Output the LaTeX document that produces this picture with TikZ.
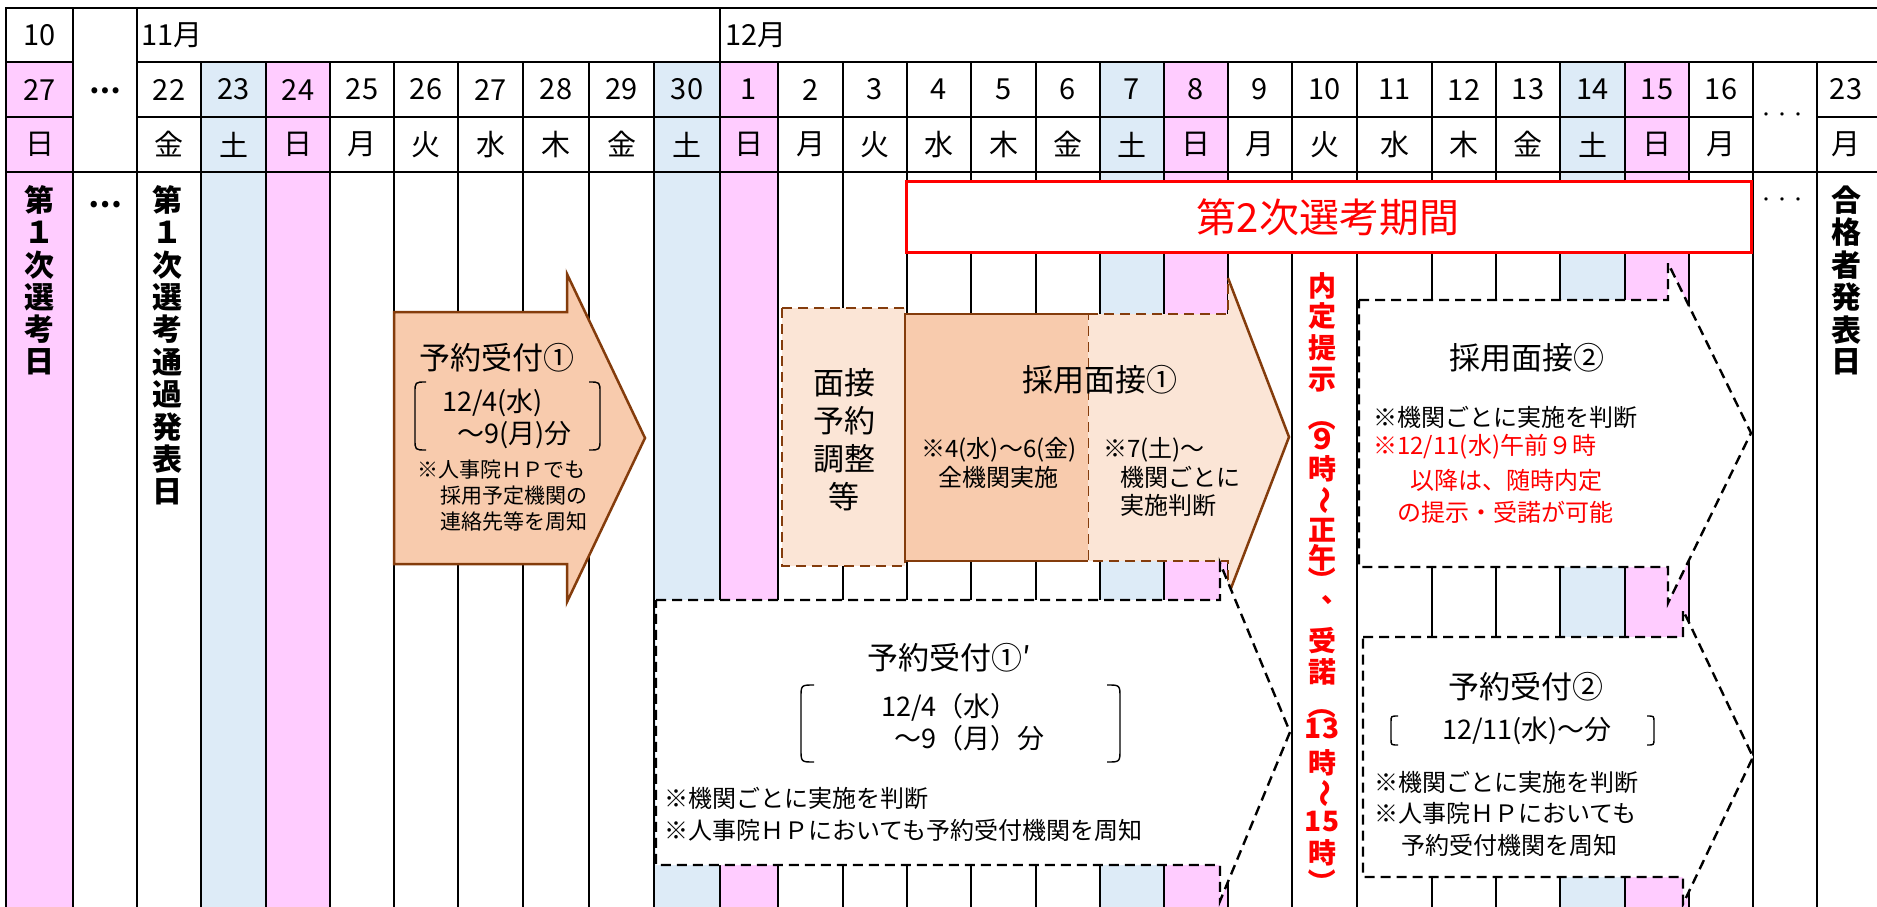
\documentclass[tikz,border=0pt]{standalone}
\usepackage{fontspec}
\setmainfont{Noto Sans CJK JP}
\definecolor{satblue}{HTML}{DDEBF7}
\definecolor{sunpink}{HTML}{FFCCFF}
\definecolor{peachdark}{HTML}{F8CBAD}
\definecolor{peachlight}{HTML}{FBE5D6}
\definecolor{brownline}{HTML}{843C0C}
\tikzset{
  gridline/.style={line width=2.6pt, line cap=rect},
  hdr/.style={inner sep=0pt, font=\fontsize{29}{29}\selectfont},
  vchar/.style={inner sep=0pt, font=\bfseries\fontsize{30}{30}\selectfont},
  redchar/.style={inner sep=0pt, text=red, font=\bfseries\fontsize{28}{28}\selectfont},
  ttl/.style={inner sep=0pt, font=\fontsize{31}{31}\selectfont},
  midtxt/.style={inner sep=0pt, font=\fontsize{27}{27}\selectfont},
  smalltxt/.style={inner sep=0pt, anchor=west, font=\fontsize{24}{24}\selectfont},
  dasharrow/.style={fill=white, draw=black, line width=2.4pt, dash pattern=on 10pt off 6pt},
  dashbox/.style={fill=peachlight, draw=brownline, line width=2.4pt, dash pattern=on 10pt off 6pt},
  brk/.style={line width=1.4pt},
}

\begin{document}
\begin{tikzpicture}[x=1pt,y=-1pt]
  \useasboundingbox (0,0) rectangle (1877,907);
  \clip (0,0) rectangle (1877,907);
  \fill[white] (0,0) rectangle (1877,907);

  % day columns
  \foreach \xa/\xb/\dd/\ww/\cc [count=\i] in {
      6/73/27/日/sunpink, 137/201/22/金/white, 201/266/23/土/satblue, 266/330/24/日/sunpink,
      330/394/25/月/white, 394/458/26/火/white, 458/523/27/水/white, 523/589/28/木/white,
      589/654/29/金/white, 654/720/30/土/satblue, 720/778/1/日/sunpink, 778/843/2/月/white,
      843/907/3/火/white, 907/971/4/水/white, 971/1036/5/木/white, 1036/1100/6/金/white,
      1100/1164/7/土/satblue, 1164/1228/8/日/sunpink, 1228/1292/9/月/white, 1292/1357/10/火/white,
      1357/1432/11/水/white, 1432/1496/12/木/white, 1496/1560/13/金/white, 1560/1625/14/土/satblue,
      1625/1689/15/日/sunpink, 1689/1753/16/月/white, 1817/1875/23/月/white}
  {
    \fill[\cc] (\xa,62) rectangle (\xb,907);
    \node[hdr] (d\i) at ({(\xa+\xb)/2},89.5) {\dd};
    \node[hdr] (w\i) at ({(\xa+\xb)/2},144.5) {\ww};
  }

  % grid
  \foreach \x in {201,266,330,394,458,523,589,654,778,843,907,971,1036,1100,1164,1228,
                  1292,1357,1432,1496,1560,1625,1689,1753,1817}
    \draw[gridline] (\x,62) -- (\x,910);
  \foreach \x in {6,73,137,720}
    \draw[gridline] (\x,8) -- (\x,910);
  \draw[gridline] (6,8) -- (1880,8);
  \draw[gridline] (6,62) -- (73,62) (137,62) -- (1880,62);
  \draw[gridline] (6,117) -- (73,117) (137,117) -- (1753,117) (1817,117) -- (1880,117);
  \draw[gridline] (6,172) -- (1880,172);

  % months
  \node[hdr] (m10) at (39.5,35) {10};
  \node[hdr,anchor=west] (m11) at (141,35) {11月};
  \node[hdr,anchor=west] (m12) at (725,35) {12月};
  \node[hdr,font=\bfseries\fontsize{28}{28}\selectfont] (gapa) at (105,91) {…};
  \node[hdr,font=\fontsize{16}{16}\selectfont] (gapb) at (1782,117) {・・・};

  % fixed dates
  \foreach \ch [count=\i] in {第,１,次,選,考,日}
    \node[vchar] (da\i) at (39.5,{200+(\i-1)*32.4}) {\ch};
  \foreach \ch [count=\i] in {第,１,次,選,考,通,過,発,表,日}
    \node[vchar] (db\i) at (167,{200+(\i-1)*32.4}) {\ch};
  \foreach \ch [count=\i] in {合,格,者,発,表,日}
    \node[vchar] (dc\i) at (1846,{200+(\i-1)*32.4}) {\ch};
  \node[vchar] (gapc) at (105,205) {…};
  \node[hdr,font=\fontsize{16}{16}\selectfont] (gapd) at (1782,202) {・・・};

  % reservation 1
  \draw[fill=peachdark, draw=brownline, line width=2.5pt]
    (394,312) -- (567,312) -- (567,274) -- (645,438) -- (567,602) -- (567,564) -- (394,564) -- cycle;
  \node[ttl] (res1) at (497,358) {予約受付①};
  \draw[brk] (426,382) .. controls (415,382) .. (415,393) -- (415,439) .. controls (415,450) .. (426,450);
  \draw[brk] (589,382) .. controls (600,382) .. (600,393) -- (600,439) .. controls (600,450) .. (589,450);
  \node[midtxt,anchor=west] (res1a) at (442,403) {12/4(水)};
  \node[midtxt,anchor=west] (res1b) at (457,435) {～9(月)分};
  \node[smalltxt,font=\fontsize{21}{21}\selectfont] (res1c) at (417,470) {※人事院ＨＰでも};
  \node[smalltxt,font=\fontsize{21}{21}\selectfont] (res1d) at (440,496) {採用予定機関の};
  \node[smalltxt,font=\fontsize{21}{21}\selectfont] (res1e) at (440,522) {連絡先等を周知};

  % interview arrangement
  \draw[dashbox] (782,308) rectangle (905,566);
  \node[ttl,align=center,font=\fontsize{31}{38}\selectfont] (adj) at (844,440) {面接\\予約\\調整\\等};

  % interview 1
  \fill[peachlight] (1088,314) -- (1228,314) -- (1228,278) -- (1289,437) -- (1228,596)
    -- (1228,561) -- (1088,561) -- cycle;
  \draw[brownline, line width=2.4pt, dash pattern=on 10pt off 6pt]
    (1088,314) -- (1228,314) -- (1228,278) (1228,596) -- (1228,561) -- (1088,561) -- (1088,314);
  \draw[brownline, line width=2.5pt] (1228,278) -- (1289,437) -- (1228,596);
  \fill[peachdark] (905,314) rectangle (1088,561);
  \draw[brownline, line width=2.5pt] (1088,314) -- (905,314) -- (905,561) -- (1088,561);
  \node[ttl] (int1) at (1100,380) {採用面接①};
  \node[smalltxt,anchor=center] (int1a) at (999,450) {※4(水)～6(金)};
  \node[smalltxt,anchor=center] (int1b) at (998,477) {全機関実施};
  \node[smalltxt] (int1c) at (1103,450) {※7(土)～};
  \node[smalltxt] (int1d) at (1120,477) {機関ごとに};
  \node[smalltxt] (int1e) at (1120,505) {実施判断};

  % second stage
  \draw[red, line width=3pt, fill=white] (906,181) rectangle (1751,252);
  \node[inner sep=0pt, text=red, font=\fontsize{40}{40}\selectfont] (stage2) at (1328,217) {第2次選考期間};

  % reservation 1'
  \draw[dasharrow] (656,600) -- (1220,600) -- (1220,563) -- (1290,732) -- (1220,901)
    -- (1220,865) -- (656,865) -- cycle;
  \node[ttl] (res1p) at (949,658) {予約受付①′};
  \draw[brk] (814,685) .. controls (801,685) .. (801,698) -- (801,749) .. controls (801,762) .. (814,762);
  \draw[brk] (1107,685) .. controls (1120,685) .. (1120,698) -- (1120,749) .. controls (1120,762) .. (1107,762);
  \node[midtxt,anchor=west] (res1pa) at (881,707) {12/4（水）};
  \node[midtxt,anchor=west] (res1pb) at (894,738) {～9（月）分};
  \node[smalltxt] (res1pc) at (664,798) {※機関ごとに実施を判断};
  \node[smalltxt] (res1pd) at (664,830) {※人事院ＨＰにおいても予約受付機関を周知};

  % interview 2
  \draw[dasharrow] (1359,300) -- (1668,300) -- (1668,263) -- (1751,433) -- (1668,603)
    -- (1668,567) -- (1359,567) -- cycle;
  \node[ttl] (int2) at (1527,358) {採用面接②};
  \node[smalltxt] (int2a) at (1373,417) {※機関ごとに実施を判断};
  \node[smalltxt,text=red] (int2b) at (1373,447) {※12/11(水)午前９時};
  \node[smalltxt,anchor=center,text=red] (int2c) at (1506,480) {以降は、随時内定};
  \node[smalltxt,anchor=center,text=red] (int2d) at (1505,512) {の提示・受諾が可能};

  % reservation 2
  \draw[dasharrow] (1363,637) -- (1683,637) -- (1683,610) -- (1753,757) -- (1683,904)
    -- (1683,877) -- (1363,877) -- cycle;
  \node[ttl] (res2) at (1526,687) {予約受付②};
  \draw[brk] (1398,716) .. controls (1391,716) .. (1391,722) -- (1391,739) .. controls (1391,745) .. (1398,745);
  \draw[brk] (1647,716) .. controls (1654,716) .. (1654,722) -- (1654,739) .. controls (1654,745) .. (1647,745);
  \node[midtxt] (res2a) at (1527,731) {12/11(水)～分};
  \node[smalltxt] (res2b) at (1374,782) {※機関ごとに実施を判断};
  \node[smalltxt] (res2c) at (1374,813) {※人事院ＨＰにおいても};
  \node[smalltxt] (res2d) at (1401,845) {予約受付機関を周知};

  % offer and acceptance
  \foreach \ch/\yy/\rr/\dx [count=\i] in {
      内/286/0/0, 定/316/0/0, 提/348/0/0, 示/380/0/0, （/417/-90/0, ９/439/0/0,
      時/469/0/0, ～/500/-90/0, 正/530/0/0, 午/558/0/0, ）/580/-90/0, 、/600/0/13,
      受/641/0/0, 諾/672/0/0, （/705/-90/0, 13/728/0/0, 時/763/0/0, ～/793/-90/0,
      15/822/0/0, 時/853/0/0, ）/882/-90/0}
    \node[redchar, rotate=\rr] (r\i) at ({1322+\dx},\yy) {\ch};
\end{tikzpicture}
\end{document}
